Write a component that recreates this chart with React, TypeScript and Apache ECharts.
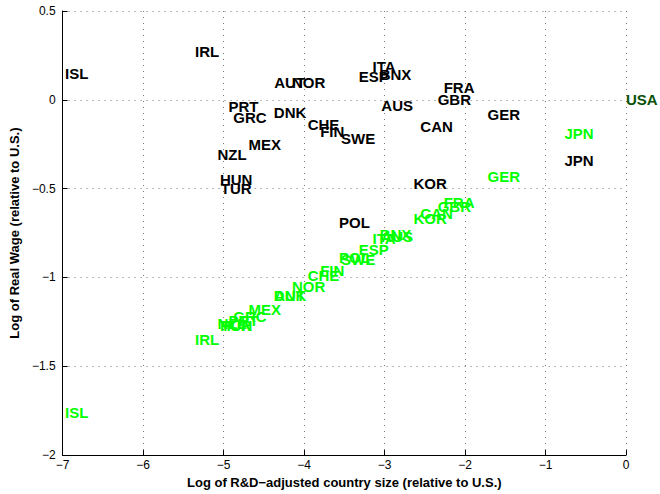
import React, { useEffect, useRef } from "react";
import * as echarts from "echarts";

// Country codes, in the same order as the value arrays below.
const countries = [
  "ISL", "IRL", "AUT", "NOR", "PRT", "GRC", "DNK", "CHE", "FIN", "SWE",
  "MEX", "NZL", "HUN", "TUR", "ITA", "ESP", "BNX", "FRA", "GBR", "AUS",
  "GER", "CAN", "JPN", "KOR", "POL",
];

// Log of R&D-adjusted country size (relative to U.S.)
const logSize = [
  -6.97, -5.355, -4.37, -4.15, -4.94, -4.88, -4.375, -3.955, -3.80, -3.54,
  -4.69, -5.075, -5.045, -5.035, -3.15, -3.32, -3.06, -2.265, -2.34, -3.04,
  -1.72, -2.555, -0.765, -2.64, -3.565,
];

// Observed log real wage (relative to U.S.)
const observedWage = [
  0.15, 0.27, 0.10, 0.10, -0.04, -0.10, -0.07, -0.14, -0.18, -0.22,
  -0.25, -0.31, -0.45, -0.50, 0.19, 0.13, 0.14, 0.07, 0.0, -0.03,
  -0.08, -0.15, -0.34, -0.47, -0.69,
];

// Model-predicted log real wage (relative to U.S.)
const modelWage = [
  -1.76, -1.35, -1.10, -1.05, -1.24, -1.22, -1.10, -0.99, -0.96, -0.90,
  -1.18, -1.26, -1.27, -1.27, -0.78, -0.84, -0.76, -0.58, -0.60, -0.77,
  -0.43, -0.64, -0.19, -0.67, -0.89,
];

// The reference country sits at the origin.
const usa = { name: "USA", size: 0, wage: 0 };

const xTicks = { min: -7, max: 0, step: 1 };
const yTicks = { min: -2, max: 0.5, step: 0.5 };

const FONT = "'Liberation Sans', Helvetica, Arial, sans-serif";

const toMinus = (v: number) => String(v).replace("-", "\u2212");

function textLabel(color: string) {
  return {
    show: true,
    position: "right" as const,
    distance: 0,
    formatter: (p: any) => p.name,
    color,
    fontFamily: FONT,
    fontWeight: "bold" as const,
    fontSize: 15,
  };
}

function labelSeries(
  name: string,
  points: { name: string; value: number[] }[],
  color: string
): echarts.SeriesOption {
  return {
    name,
    type: "scatter",
    symbolSize: 0,
    silent: true,
    itemStyle: { opacity: 1 },
    data: points,
    label: textLabel(color),
  } as echarts.SeriesOption;
}

export default function App() {
  const ref = useRef<HTMLDivElement>(null);

  useEffect(() => {
    if (!ref.current) return;
    const chart = echarts.init(ref.current, undefined, { renderer: "svg" });

    const axisCommon = {
      axisLine: { show: true, onZero: false, lineStyle: { color: "#000", width: 1 } },
      axisTick: { show: true, inside: true, length: 5, lineStyle: { color: "#000" } },
      splitLine: {
        show: true,
        lineStyle: { color: "#777", type: [1, 5] as any, width: 1 },
      },
      axisLabel: {
        color: "#000",
        fontFamily: FONT,
        fontSize: 12,
        formatter: (v: number) => toMinus(v),
      },
      nameLocation: "middle" as const,
      nameTextStyle: {
        color: "#000",
        fontFamily: FONT,
        fontWeight: "bold" as const,
        fontSize: 13,
      },
    };

    const observed = countries.map((c, i) => ({ name: c, value: [logSize[i], observedWage[i]] }));
    const model = countries.map((c, i) => ({ name: c, value: [logSize[i], modelWage[i]] }));

    chart.setOption({
      animation: false,
      backgroundColor: "#fff",
      grid: { left: 59, right: 34, top: 11, bottom: 37, containLabel: false },
      xAxis: {
        type: "value",
        min: xTicks.min,
        max: xTicks.max,
        interval: xTicks.step,
        name: "Log of R&D\u2212adjusted country size (relative to U.S.)",
        nameGap: 19,
        ...axisCommon,
        axisLabel: { ...axisCommon.axisLabel, margin: 4 },
      },
      yAxis: {
        type: "value",
        min: yTicks.min,
        max: yTicks.max,
        interval: yTicks.step,
        name: "Log of Real Wage (relative to U.S.)",
        nameGap: 34,
        ...axisCommon,
        axisLabel: { ...axisCommon.axisLabel, margin: 7 },
      },
      series: [
        labelSeries("Observed", observed, "#000000"),
        labelSeries("Model", model, "#00ff00"),
        labelSeries("United States", [{ name: usa.name, value: [usa.size, usa.wage] }], "#075207"),
      ],
    });

    return () => chart.dispose();
  }, []);

  return (
    <div
      ref={ref}
      style={{ position: "fixed", left: 0, top: 0, width: 660, height: 494 }}
    />
  );
}
